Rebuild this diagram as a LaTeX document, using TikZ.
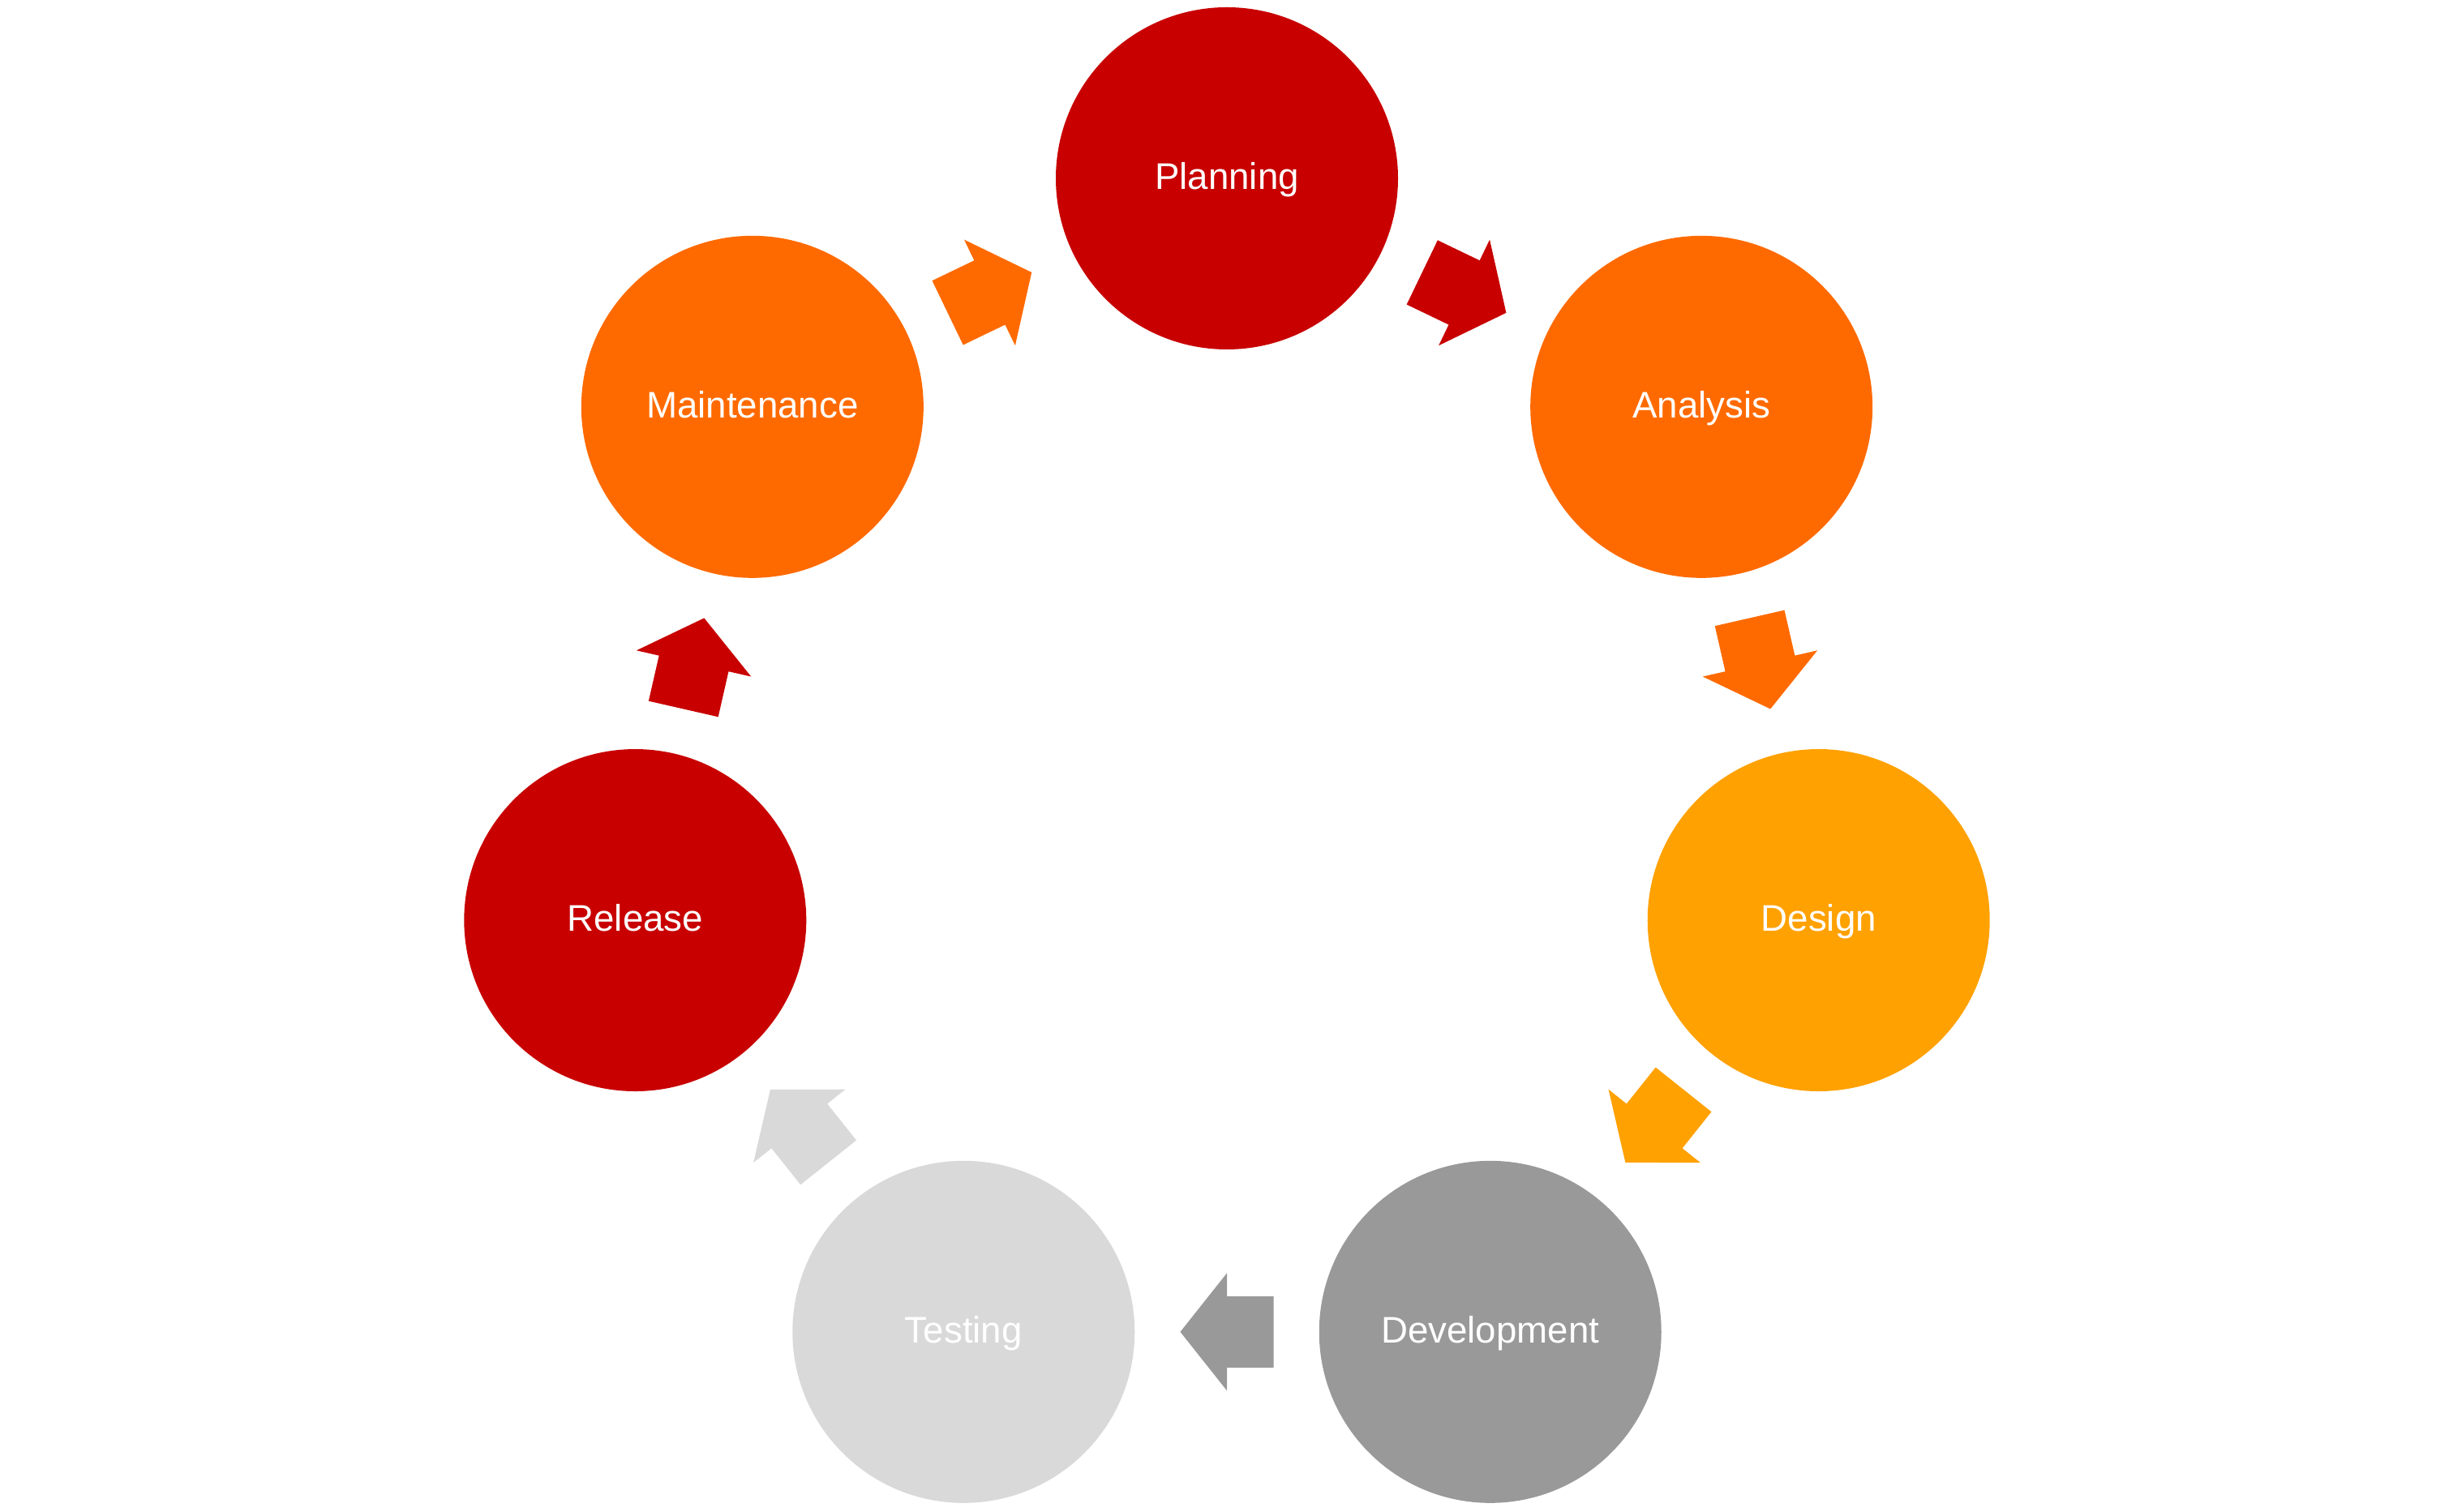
\documentclass[tikz,border=0pt]{standalone}
\usepackage{fontspec}
\setmainfont{Liberation Sans}
\usetikzlibrary{calc}
\definecolor{cred}{HTML}{C80000}
\definecolor{corange}{HTML}{FF6A00}
\definecolor{cyellow}{HTML}{FFA100}
\definecolor{cgray}{HTML}{999999}
\definecolor{clight}{HTML}{D9D9D9}
\newcommand\cycarrow[3]{%
  \coordinate (m) at ($(#1)!0.5!(#2)$);
  \coordinate (t) at ($(m)!-0.575cm!(#2)$);
  \fill[#3] ($(m)!0.575cm!(#2)$) -- ($(m)!0.725cm!90:(#2)$) -- ($(m)!0.44cm!90:(#2)$)
    -- ($(t)!0.44cm!90:(#2)$) -- ($(t)!0.44cm!-90:(#2)$) -- ($(m)!0.44cm!-90:(#2)$)
    -- ($(m)!0.725cm!-90:(#2)$) -- cycle;
}
\begin{document}
\begin{tikzpicture}[
  stage/.style={circle, minimum size=4.22cm, inner sep=0pt, draw=none, text=white,
    font=\fontsize{13}{15}\selectfont, text height=0.76em, text depth=0pt}
]
\useasboundingbox (0,0) rectangle (30.25,18.65);
\coordinate (c) at (15.13,8.965);
\def\R{7.485}
\node[stage, fill=cred]    (plan)  at ($(c)+(90:\R)$) {Planning};
\node[stage, fill=corange] (anal)  at ($(c)+({90-360/7}:\R)$) {Analysis};
\node[stage, fill=cyellow] (desi)  at ($(c)+({90-2*360/7}:\R)$) {Design};
\node[stage, fill=cgray]   (deve)  at ($(c)+({90-3*360/7}:\R)$) {Development};
\node[stage, fill=clight]  (test)  at ($(c)+({90-4*360/7}:\R)$) {Testing};
\node[stage, fill=cred]    (rele)  at ($(c)+({90-5*360/7}:\R)$) {Release};
\node[stage, fill=corange] (main)  at ($(c)+({90-6*360/7}:\R)$) {Maintenance};
\cycarrow{plan}{anal}{cred}
\cycarrow{anal}{desi}{corange}
\cycarrow{desi}{deve}{cyellow}
\cycarrow{deve}{test}{cgray}
\cycarrow{test}{rele}{clight}
\cycarrow{rele}{main}{cred}
\cycarrow{main}{plan}{corange}
\end{tikzpicture}
\end{document}
